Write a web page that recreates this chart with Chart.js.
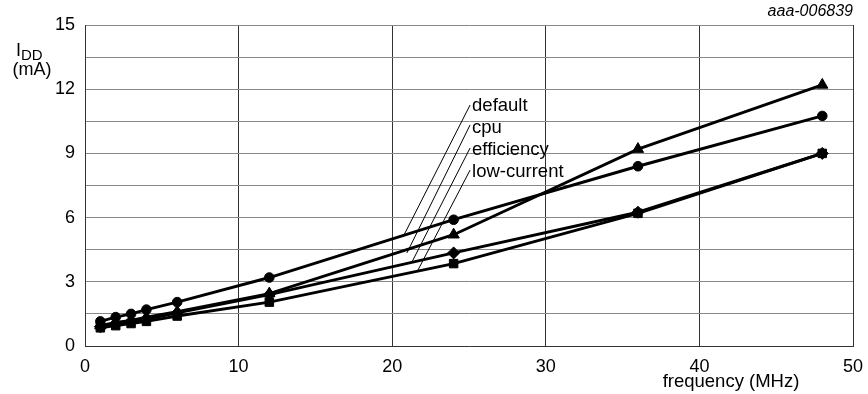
<!DOCTYPE html>
<html>
<head>
<meta charset="utf-8">
<script src="https://cdn.jsdelivr.net/npm/chart.js@4.4.0/dist/chart.umd.min.js"></script>
<style>
  body { margin: 0; background: #fff; }
  #wrap { width: 868px; height: 394px; }
</style>
</head>
<body>
<div id="wrap"><canvas id="iddChart" width="868" height="394"></canvas></div>
<script>
// frequency points (MHz) and supply current (mA) per power mode
const freqMHz = [1, 2, 3, 4, 6, 12, 24, 36, 48];
const iddDefault = [1.15, 1.35, 1.5, 1.7, 2.05, 3.2, 5.9, 8.4, 10.75];
const iddCpu = [0.95, 1.1, 1.2, 1.35, 1.6, 2.45, 5.2, 9.2, 12.2];
const iddEfficiency = [0.9, 1.05, 1.15, 1.25, 1.55, 2.4, 4.35, 6.25, 9.0];
const iddLowCurrent = [0.85, 0.95, 1.05, 1.15, 1.4, 2.05, 3.85, 6.2, 9.0];

const modeNames = ['default', 'cpu', 'efficiency', 'low-current'];
const xTicks = [0, 10, 20, 30, 40, 50];
const yLabelTicks = [0, 3, 6, 9, 12, 15];

// label text anchor (data coords) and leader line end on the curves
const labelX = 25.2;
const labelY = [10.98, 9.95, 8.93, 7.9];
const leaderTop = [[25.07, 11.26], [25.07, 10.33], [25.07, 9.25], [25.07, 8.22]];
const leaderEnd = [[20.7, 5.09], [20.96, 4.35], [21.29, 3.93], [21.68, 3.55]];

const FONT = "'Liberation Sans', Arial, sans-serif";

function toPoints(ys) {
    return freqMHz.map((f, i) => ({ x: f, y: ys[i] }));
}

function series(label, ys, style, radius) {
    return {
        label: label,
        data: toPoints(ys),
        borderColor: '#000',
        backgroundColor: '#000',
        borderWidth: 2.9,
        pointStyle: style,
        pointRadius: radius,
        pointBorderWidth: 1,
        pointBackgroundColor: '#000',
        pointBorderColor: '#000',
        tension: 0
    };
}

const annotations = {
    id: 'annotations',
    afterDatasetsDraw(chart) {
        const ctx = chart.ctx;
        const xs = chart.scales.x;
        const ys = chart.scales.y;
        ctx.save();
        // leader lines
        ctx.strokeStyle = '#000';
        ctx.lineWidth = 1;
        leaderTop.forEach((top, i) => {
            ctx.beginPath();
            ctx.moveTo(xs.getPixelForValue(top[0]), ys.getPixelForValue(top[1]));
            ctx.lineTo(xs.getPixelForValue(leaderEnd[i][0]), ys.getPixelForValue(leaderEnd[i][1]));
            ctx.stroke();
        });
        // mode labels
        ctx.fillStyle = '#000';
        ctx.font = '18.5px ' + FONT;
        ctx.textAlign = 'left';
        ctx.textBaseline = 'alphabetic';
        modeNames.forEach((name, i) => {
            ctx.fillText(name, xs.getPixelForValue(labelX), ys.getPixelForValue(labelY[i]));
        });
        ctx.restore();
    },
    afterDraw(chart) {
        const ctx = chart.ctx;
        ctx.save();
        ctx.fillStyle = '#000';
        ctx.textBaseline = 'alphabetic';

        // y axis title: I_DD (mA)
        ctx.textAlign = 'left';
        ctx.font = '18px ' + FONT;
        ctx.fillText('I', 16, 56);
        ctx.font = '15px ' + FONT;
        ctx.fillText('DD', 21, 60);
        ctx.font = '18px ' + FONT;
        ctx.textAlign = 'center';
        ctx.fillText('(mA)', 32, 75);

        // x axis title
        ctx.font = '18.5px ' + FONT;
        ctx.fillText('frequency (MHz)', 731, 387);

        // figure code
        ctx.font = 'italic 16px ' + FONT;
        ctx.textAlign = 'right';
        ctx.fillText('aaa-006839', 853, 16);
        ctx.restore();
    }
};

const ctx = document.getElementById('iddChart').getContext('2d');
new Chart(ctx, {
    type: 'line',
    data: {
        datasets: [
            series(modeNames[0], iddDefault, 'circle', 4.8),
            series(modeNames[1], iddCpu, 'triangle', 6.5),
            series(modeNames[2], iddEfficiency, 'rectRot', 6),
            series(modeNames[3], iddLowCurrent, 'rect', 6)
        ]
    },
    options: {
        responsive: false,
        animation: false,
        layout: { padding: { top: 25, right: 15, left: 0, bottom: 0 } },
        plugins: {
            legend: { display: false },
            tooltip: { enabled: false }
        },
        scales: {
            x: {
                type: 'linear',
                min: 0,
                max: 50,
                afterFit: (s) => { s.height = 48; s.paddingLeft = 0; s.paddingRight = 0; },
                afterBuildTicks: (s) => { s.ticks = xTicks.map(v => ({ value: v })); },
                grid: { color: '#333', lineWidth: 1, drawTicks: false },
                border: { color: '#333', width: 1 },
                ticks: {
                    color: '#000',
                    font: { family: FONT, size: 18 },
                    padding: 10,
                    maxRotation: 0,
                    autoSkip: false
                }
            },
            y: {
                type: 'linear',
                min: 0,
                max: 15,
                afterFit: (s) => { s.width = 85; s.paddingTop = 0; s.paddingBottom = 0; },
                grid: { color: '#888', lineWidth: 1, drawTicks: false },
                border: { color: '#333', width: 1 },
                ticks: {
                    stepSize: 1.5,
                    autoSkip: false,
                    color: '#000',
                    font: { family: FONT, size: 18 },
                    padding: 10,
                    callback: (v) => yLabelTicks.some(t => Math.abs(t - v) < 1e-6) ? Math.round(v) : ''
                }
            }
        }
    },
    plugins: [annotations]
});
</script>
</body>
</html>
